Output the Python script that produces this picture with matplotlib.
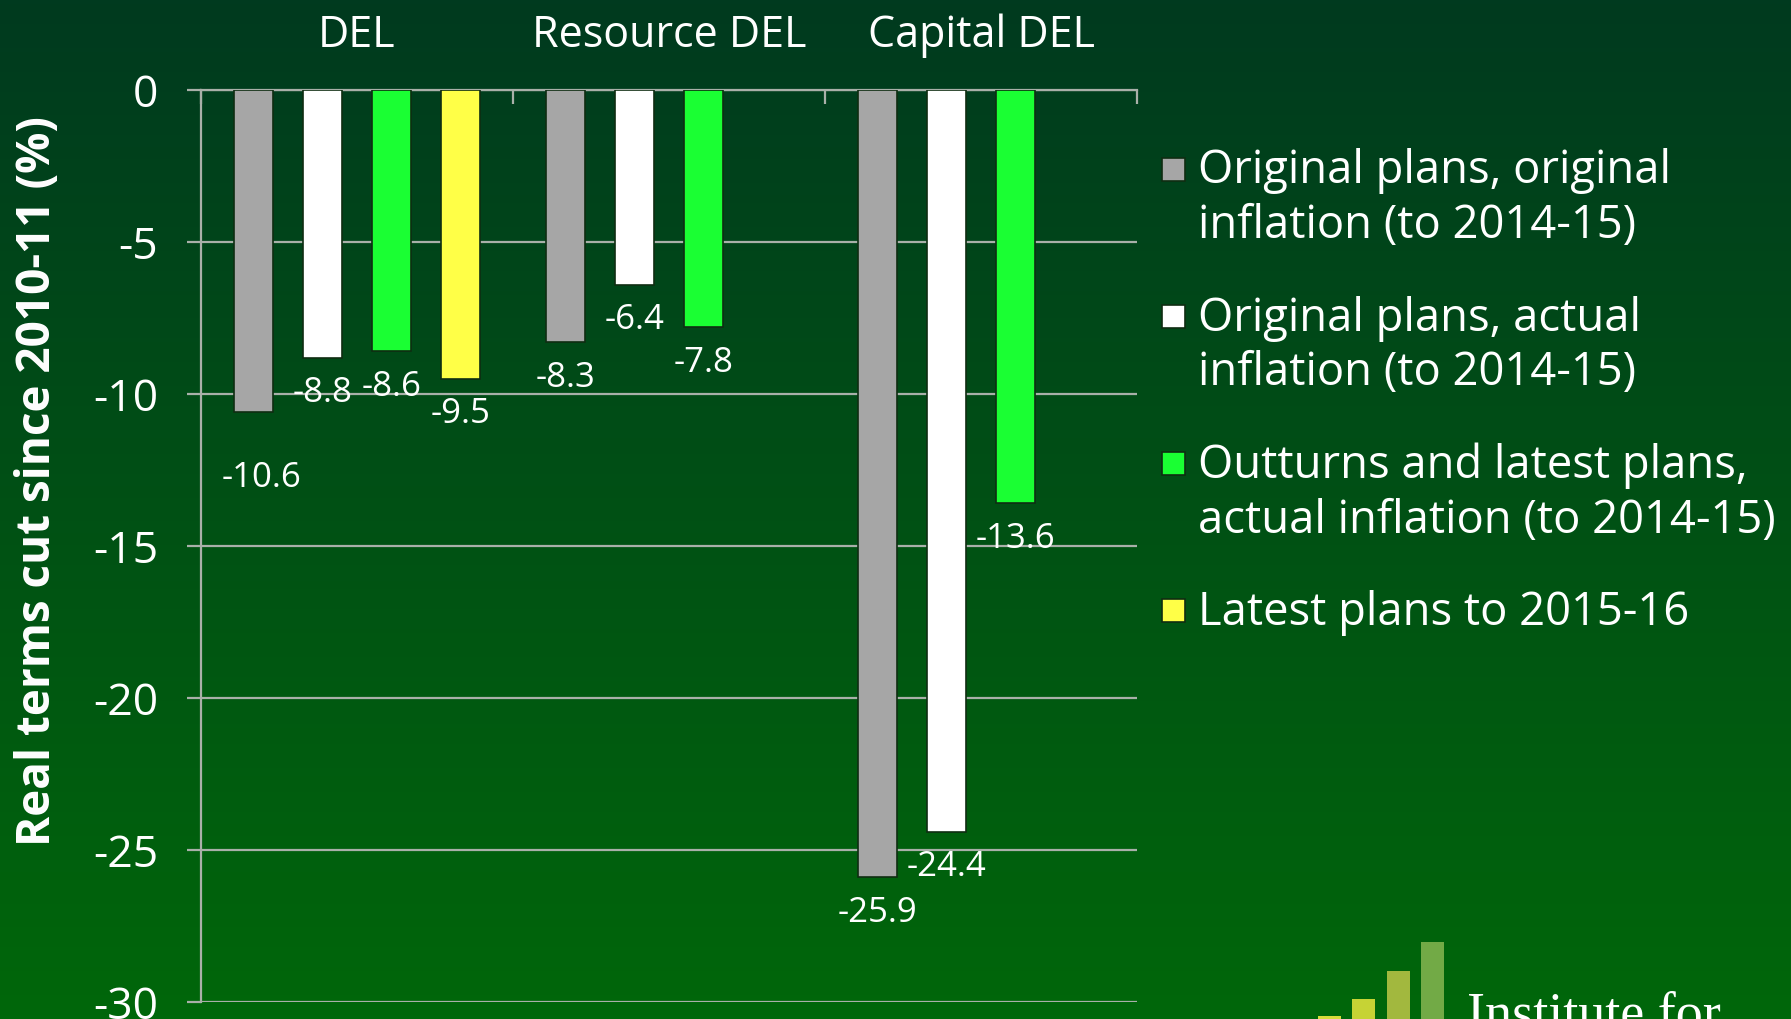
#!/usr/bin/env python3
"""Real terms DEL cuts since 2010-11, IFS style slide."""

import matplotlib.pyplot as plt
import numpy as np
from matplotlib.colors import LinearSegmentedColormap
from matplotlib.patches import Rectangle

plt.rcParams['font.family'] = ['Open Sans', 'DejaVu Sans']

categories = ["DEL", "Resource DEL", "Capital DEL"]
series_labels = [
    "Original plans, original\ninflation (to 2014-15)",
    "Original plans, actual\ninflation (to 2014-15)",
    "Outturns and latest plans,\nactual inflation (to 2014-15)",
    "Latest plans to 2015-16",
]
orig_plans_orig_infl = [-10.6, -8.3, -25.9]
orig_plans_actual_infl = [-8.8, -6.4, -24.4]
outturns_latest = [-8.6, -7.8, -13.6]
latest_2015_16 = [-9.5, None, None]
series_values = [orig_plans_orig_infl, orig_plans_actual_infl,
                 outturns_latest, latest_2015_16]
series_colors = ["#a6a6a6", "#ffffff", "#1aff33", "#ffff47"]
yticks = [0, -5, -10, -15, -20, -25, -30]

W, H = 1791, 1019
GRID = "#a9b0a9"
EDGE = "#0f2d12"


def fx(px):
    return px / W


def fy(py):
    return 1 - py / H


fig = plt.figure(figsize=(W / 100, H / 100), dpi=100)

# gradient background
bg = fig.add_axes([0, 0, 1, 1], zorder=-10)
cmap = LinearSegmentedColormap.from_list("bg", ["#003a1f", "#00670a"])
bg.imshow(np.linspace(0, 1, 256).reshape(-1, 1), aspect="auto", cmap=cmap,
          extent=[0, 1, 0, 1], origin="upper")
bg.axis("off")

ax = fig.add_axes([fx(201), fy(1002), fx(1137) - fx(201), fy(90) - fy(1002)])
ax.set_facecolor("none")

bar_w = 0.123
pitch = 0.221
# manual nudges for labels that would collide (points)
label_shift = {(0, 0): (6, -54)}

for k, (vals, col) in enumerate(zip(series_values, series_colors)):
    for i, v in enumerate(vals):
        if v is None:
            continue
        x = i + (k - 1.5) * pitch
        ax.bar(x, v, width=bar_w, color=col, edgecolor=EDGE, linewidth=1.2, zorder=3)
        dx, dy = label_shift.get((k, i), (0, -32))
        ax.annotate(f"{v:.1f}", xy=(x, v), xytext=(dx, dy), textcoords="offset points",
                    ha="center", va="baseline", fontsize=25, color="white", zorder=4)

ax.set_xlim(-0.5, 2.5)
ax.set_ylim(-30, 0)
ax.set_yticks(yticks)
ax.set_yticklabels([str(t) for t in yticks])
ax.yaxis.grid(True, color=GRID, linewidth=1.6)
ax.set_axisbelow(True)
ax.tick_params(axis="y", length=10, width=1.6, color=GRID, pad=21,
               labelsize=32, labelcolor="white")

ax.xaxis.set_ticks_position("top")
ax.set_xticks([-0.5, 0.5, 1.5, 2.5])
ax.set_xticklabels([])
ax.tick_params(axis="x", direction="in", length=10, width=1.6, color=GRID)

for side in ["right", "bottom"]:
    ax.spines[side].set_visible(False)
for side in ["left", "top"]:
    ax.spines[side].set_color(GRID)
    ax.spines[side].set_linewidth(1.6)

for i, cat in enumerate(categories):
    ax.annotate(cat, xy=(i, 1), xycoords=("data", "axes fraction"), xytext=(0, 31),
                textcoords="offset points", ha="center", va="baseline",
                fontsize=31, color="white")

fig.text(fx(38), fy(481), "Real terms cut since 2010-11 (%)", rotation=90,
         ha="center", va="center", fontsize=33, fontweight="bold", color="white")

# legend drawn by hand so the swatch sits on the first line
line_step = 55
for k, (lab, col) in enumerate(zip(series_labels, series_colors)):
    base = 183 + 147.3 * k
    n_lines = lab.count("\n") + 1
    fig.add_artist(Rectangle((fx(1162), fy(base - 14 + 11.5)), 23 / W, 23 / H,
                             transform=fig.transFigure, facecolor=col,
                             edgecolor=EDGE, linewidth=1.2))
    fig.text(fx(1198), fy(base + line_step * (n_lines - 1)), lab, ha="left",
             va="baseline", fontsize=32.7, color="white", linespacing=1.25)

# IFS logo, cut off at the bottom edge
logo_colors = ["#d8dc3c", "#c6d335", "#a2b83e", "#72aa46"]
logo_left = [1318, 1352, 1387, 1421]
logo_top = [1016, 999, 971, 942]
for c, l, t in zip(logo_colors, logo_left, logo_top):
    fig.add_artist(Rectangle((fx(l), fy(H + 20)), 23 / W, (H + 20 - t) / H,
                             transform=fig.transFigure, facecolor=c, edgecolor="none"))
fig.text(fx(1467), fy(1029), "Institute for", ha="left", va="baseline",
         fontsize=39, color="white", family=["Liberation Serif", "DejaVu Serif"])

fig.savefig("out.png", dpi=100)
